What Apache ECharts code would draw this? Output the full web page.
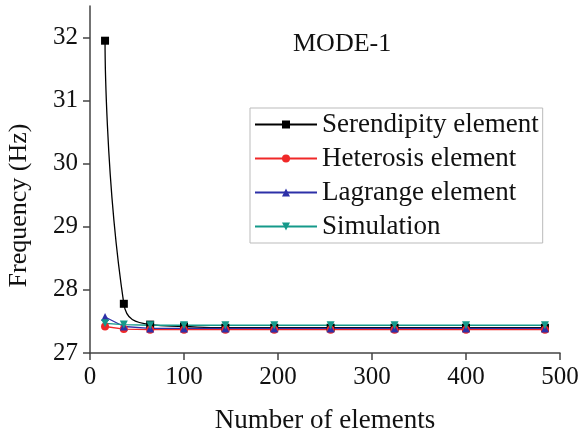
<!DOCTYPE html>
<html>
<head>
<meta charset="utf-8">
<script src="https://cdn.jsdelivr.net/npm/echarts@6/dist/echarts.min.js"></script>
<style>
  html, body { margin: 0; padding: 0; background: #fff; }
  #chart { width: 578px; height: 436px; }
</style>
</head>
<body>
<div id="chart"></div>
<script>
// number of elements (x)
const elements = [16, 36, 64, 100, 144, 196, 256, 324, 400, 484]
// frequencies (Hz)
const serendipity = [31.95, 27.78, 27.45, 27.42, 27.40, 27.40, 27.40, 27.40, 27.40, 27.40]
const heterosis = [27.42, 27.38, 27.37, 27.37, 27.37, 27.37, 27.37, 27.37, 27.37, 27.37]
const lagrange = [27.57, 27.42, 27.39, 27.39, 27.39, 27.39, 27.39, 27.39, 27.39, 27.39]
const simulation = [27.47, 27.45, 27.44, 27.44, 27.44, 27.44, 27.44, 27.44, 27.44, 27.44]
const yTicks = [27, 28, 29, 30, 31, 32]

const font = 'Liberation Serif'
const pairs = (ys) => elements.map((x, i) => [x, ys[i]])

const mk = (name, data, color, symbol, extra) => Object.assign({
  name,
  type: 'line',
  data: pairs(data),
  symbol,
  symbolSize: 8,
  lineStyle: {color, width: 1.3},
  itemStyle: {color},
  emphasis: {disabled: true}
}, extra || {})

const chart = echarts.init(document.getElementById('chart'))
chart.setOption({
  animation: false,
  title: {
    text: 'MODE-1',
    left: 293,
    top: 31,
    padding: 0,
    textStyle: {fontFamily: font, fontSize: 26, fontWeight: 'normal', color: '#111'}
  },
  grid: {left: 90, right: 18, top: 6, bottom: 83, containLabel: false, outerBoundsMode: 'none'},
  legend: {
    orient: 'vertical',
    left: 250,
    top: 108,
    padding: [3, 4, 3, 4],
    borderColor: '#bbb',
    borderWidth: 1,
    itemWidth: 62,
    itemHeight: 10,
    itemGap: 7,
    textStyle: {fontFamily: font, fontSize: 27, color: '#111'},
    data: ['Serendipity element', 'Heterosis element', 'Lagrange element', 'Simulation']
  },
  xAxis: {
    type: 'value',
    min: 0,
    max: 500,
    interval: 100,
    name: 'Number of elements',
    nameLocation: 'middle',
    nameGap: 54,
    nameTextStyle: {fontFamily: font, fontSize: 27, color: '#111'},
    axisLine: {lineStyle: {color: '#444', width: 1.5}},
    axisTick: {inside: false, length: 7, lineStyle: {color: '#444', width: 1.5}},
    axisLabel: {fontFamily: font, fontSize: 25, color: '#111', margin: 12},
    splitLine: {show: false}
  },
  yAxis: {
    type: 'value',
    min: 27,
    max: 32.5,
    name: 'Frequency (Hz)',
    nameLocation: 'middle',
    nameGap: 58,
    nameTextStyle: {fontFamily: font, fontSize: 26, color: '#111', padding: [0, 52, 0, 0]},
    axisLine: {show: true, lineStyle: {color: '#444', width: 1.5}},
    axisTick: {show: true, length: 7, customValues: yTicks, lineStyle: {color: '#444', width: 1.5}},
    axisLabel: {fontFamily: font, fontSize: 25, color: '#111', margin: 12, customValues: yTicks},
    splitLine: {show: false}
  },
  series: [
    mk('Serendipity element', serendipity, '#000000', 'rect', {smooth: 0.5}),
    mk('Heterosis element', heterosis, '#f02828', 'circle'),
    mk('Lagrange element', lagrange, '#2d30a8', 'triangle'),
    mk('Simulation', simulation, '#15998a', 'triangle', {symbolRotate: 180})
  ]
})
</script>
</body>
</html>
